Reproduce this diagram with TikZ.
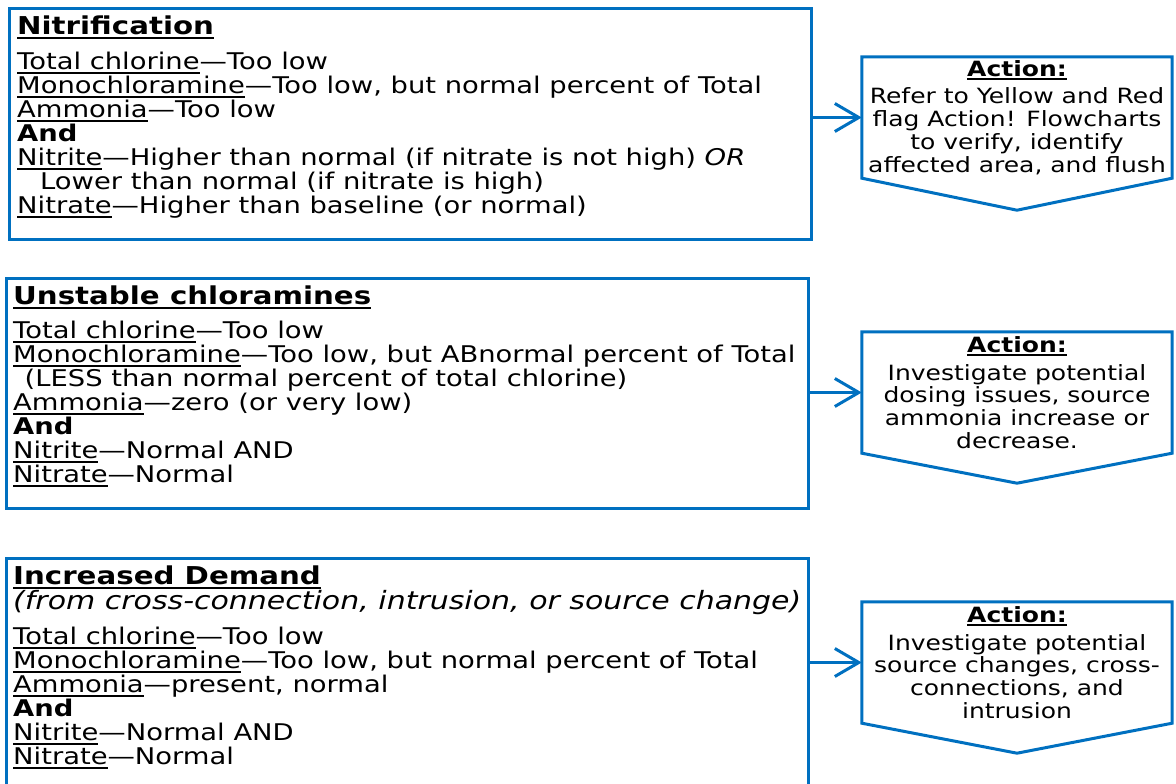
\documentclass[tikz,border=0pt]{standalone}
\usepackage{fontspec}
\setmainfont[FakeStretch=1.19]{DejaVu Sans}
\usetikzlibrary{arrows.meta}
\definecolor{flowblue}{RGB}{0,112,192}
\newcommand{\undl}[1]{\setbox0\hbox{#1}\rlap{\vrule height -1.8pt depth 3.8pt width \wd0}\box0}
\newcommand{\condhead}{\fontsize{24.6}{24}\selectfont\bfseries}
\tikzset{
    condbox/.style={draw=flowblue, line width=3pt, anchor=north west, inner sep=0pt, minimum width=802pt},
    condtext/.style={anchor=north west, align=left, inner sep=0pt, font=\fontsize{23}{24}\selectfont},
    actbox/.style={align=center, inner sep=0pt, minimum width=310pt, minimum height=121pt, font=\fontsize{21}{22.8}\selectfont},
    actline/.style={draw=flowblue, line width=3pt, line join=miter},
    flow/.style={draw=flowblue, line width=3pt, -{Straight Barb[length=24pt,width=28pt]}}
}
\begin{document}
\begin{tikzpicture}[x=1pt,y=-1pt]
    \useasboundingbox (0,0) rectangle (1176,784);
    \node[condbox, minimum height=231pt] (nitbox) at (8,7) {};
    \node[condbox, minimum height=230pt] (unsbox) at (5,277) {};
    \node[condbox, minimum height=243pt] (dembox) at (5,557) {};
    \node[condtext] (nittext) at (17,16) {{\condhead\undl{Nitrification}}\\[11pt]
        \undl{Total chlorine}—Too low\\
        \undl{Monochloramine}—Too low, but normal percent of Total\\
        \undl{Ammonia}—Too low\\
        \textbf{And}\\
        \undl{Nitrite}—Higher than normal (if nitrate is not high) \textit{OR}\\
        \hspace*{1em}Lower than normal (if nitrate is high)\\
        \undl{Nitrate}—Higher than baseline (or normal)};
    \node[condtext] (unstext) at (13,286) {{\condhead\undl{Unstable chloramines}}\\[10pt]
        \undl{Total chlorine}—Too low\\
        \undl{Monochloramine}—Too low, but ABnormal percent of Total\\
        \hspace*{0.5em}(LESS than normal percent of total chlorine)\\
        \undl{Ammonia}—zero (or very low)\\
        \textbf{And}\\
        \undl{Nitrite}—Normal AND\\
        \undl{Nitrate}—Normal};
    \node[condtext] (demtext) at (13,566) {{\condhead\undl{Increased Demand}}\\[1pt]
        {\fontsize{25.2}{24}\selectfont\itshape (from cross-connection, intrusion, or source change)}\\[11pt]
        \undl{Total chlorine}—Too low\\
        \undl{Monochloramine}—Too low, but normal percent of Total\\
        \undl{Ammonia}—present, normal\\
        \textbf{And}\\
        \undl{Nitrite}—Normal AND\\
        \undl{Nitrate}—Normal};
    \node[actbox] (nitact) at (1017,117.5) {\textbf{\undl{Action:}}\\[5pt]
        Refer to Yellow and Red\\flag Action! Flowcharts\\to verify, identify\\affected area, and flush};
    \node[actbox] (unsact) at (1017,392.5) {\textbf{\undl{Action:}}\\[5pt]
        Investigate potential\\dosing issues, source\\ammonia increase or\\decrease.};
    \node[actbox] (demact) at (1017,662.5) {\textbf{\undl{Action:}}\\[5pt]
        Investigate potential\\source changes, cross-\\connections, and\\intrusion};
    \draw[actline] (nitact.north west) -- (nitact.north east) -- (nitact.south east) -- ([yshift=-32pt]nitact.south) -- (nitact.south west) -- cycle;
    \draw[actline] (unsact.north west) -- (unsact.north east) -- (unsact.south east) -- ([yshift=-30pt]unsact.south) -- (unsact.south west) -- cycle;
    \draw[actline] (demact.north west) -- (demact.north east) -- (demact.south east) -- ([yshift=-30pt]demact.south) -- (demact.south west) -- cycle;
    \draw[flow] (nitbox.east |- nitact.west) -- (nitact.west);
    \draw[flow] (unsbox.east |- unsact.west) -- (unsact.west);
    \draw[flow] (dembox.east |- demact.west) -- (demact.west);
\end{tikzpicture}
\end{document}
